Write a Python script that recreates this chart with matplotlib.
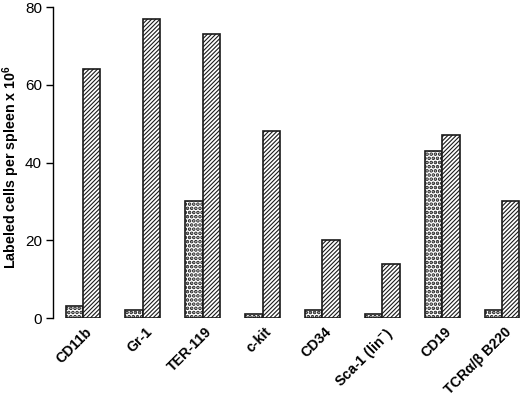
import matplotlib
matplotlib.use("Agg")
import matplotlib.pyplot as plt
from matplotlib.transforms import ScaledTranslation
import numpy as np

categories = ["CD11b", "Gr-1", "TER-119", "c-kit", "CD34",
              "Sca-1 (lin$^{\\mathbf{-}}$)", "CD19", "TCRα/β B220"]
dotted_vals = [3, 2, 30, 1, 2, 1, 43, 2]
hatched_vals = [64, 77, 73, 48, 20, 14, 47, 30]
yticks = [0, 20, 40, 60, 80]

plt.rcParams['font.family'] = ['Liberation Sans', 'DejaVu Sans']
plt.rcParams['hatch.linewidth'] = 0.8
plt.rcParams['hatch.color'] = 'black'
plt.rcParams['mathtext.fontset'] = 'custom'
plt.rcParams['mathtext.rm'] = 'Liberation Sans:bold'
plt.rcParams['mathtext.bf'] = 'Liberation Sans:bold'

fig = plt.figure(figsize=(5.2, 3.98), dpi=100)
ax = fig.add_axes([0.102, 0.201, 0.898, 0.781])

x = np.arange(len(categories))
w = 0.29
b1 = ax.bar(x - w/2, dotted_vals, width=w, facecolor='white', edgecolor='#1a1a1a',
            hatch='....', linewidth=1.2)
b2 = ax.bar(x + w/2, hatched_vals, width=w, facecolor='white', edgecolor='#1a1a1a',
            hatch='////////', linewidth=1.2)
for p in b1:
    if hasattr(p, 'set_hatch_linewidth'):
        p.set_hatch_linewidth(1.8)

ax.set_xlim(-0.5, 7.3)
ax.set_ylim(0, 80)
ax.set_yticks(yticks)
ax.tick_params(axis='y', labelsize=11, length=5, width=1, pad=3)
ax.set_xticks(x)
ax.set_xticklabels(categories, rotation=45, ha='right', rotation_mode='anchor',
                   fontsize=10.2, fontweight='bold')
ax.tick_params(axis='x', length=0, pad=5)
off = ScaledTranslation(2/100, 0, fig.dpi_scale_trans)
for lbl in ax.get_xticklabels():
    lbl.set_transform(lbl.get_transform() + off)
for s in ['top', 'right', 'bottom']:
    ax.spines[s].set_visible(False)
ax.spines['left'].set_linewidth(1.0)
ax.set_ylabel("Labeled cells per spleen x 10$^{6}$", fontsize=10.3,
              fontweight='bold')
ax.yaxis.set_label_coords(-0.066, 0.485)

fig.savefig("out.png", dpi=100)
